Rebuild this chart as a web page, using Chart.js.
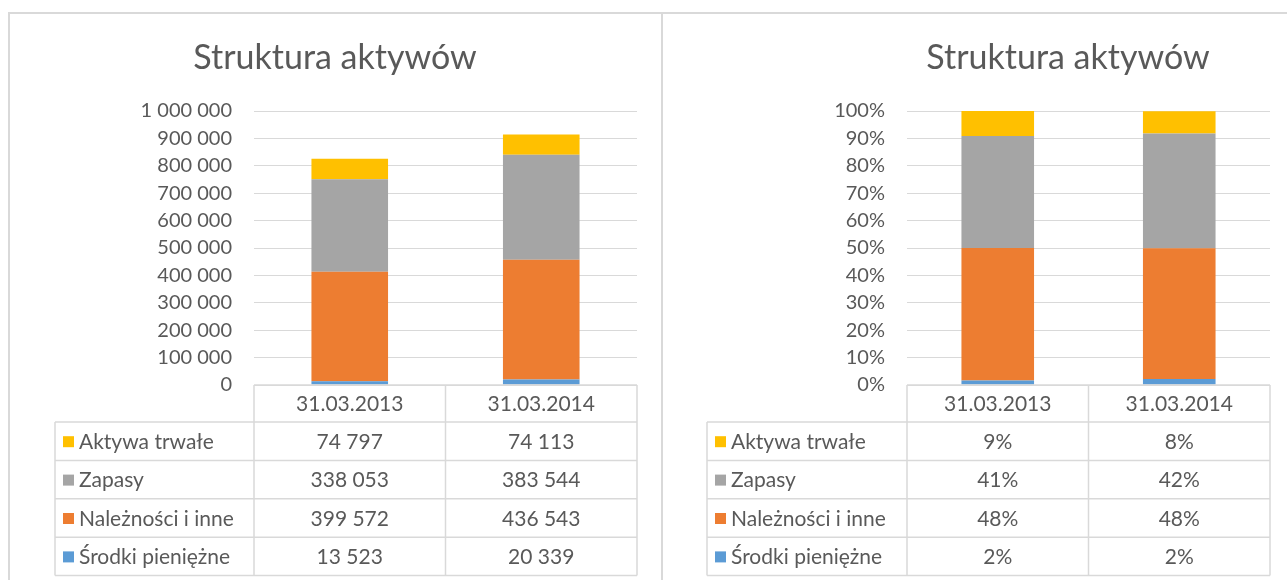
<!DOCTYPE html>
<html>
<head>
<meta charset="utf-8">
<script src="https://cdn.jsdelivr.net/npm/chart.js@4.4.1/dist/chart.umd.min.js"></script>
<style>
  html, body { margin: 0; padding: 0; background: #ffffff; width: 1287px; height: 580px; overflow: hidden; }
  .panel { position: absolute; border-left: 2px solid #d9d9d9; border-top: 2px solid #d9d9d9; box-sizing: border-box; }
  canvas { position: absolute; }
</style>
</head>
<body>
<div class="panel" style="left:8px; top:12px; width:660px; height:580px;"></div>
<div class="panel" style="left:661px; top:12px; width:640px; height:580px;"></div>
<canvas id="c1" width="651" height="566" style="left:10px; top:14px;"></canvas>
<canvas id="c2" width="624" height="566" style="left:663px; top:14px;"></canvas>
<script>
// ---- data ----
const categories = ["31.03.2013", "31.03.2014"];
const seriesNames = ["Środki pieniężne", "Należności i inne", "Zapasy", "Aktywa trwałe"];
const seriesColors = ["#5B9BD5", "#ED7D31", "#A5A5A5", "#FFC000"];
const srodki = [13523, 20339];
const naleznosci = [399572, 436543];
const zapasy = [338053, 383544];
const aktywaTrwale = [74797, 74113];
const srodkiPct = [1.6, 2.2];
const naleznosciPct = [48.4, 47.7];
const zapasyPct = [40.9, 41.9];
const aktywaTrwalePct = [9.1, 8.1];
const absTicks = [0, 100000, 200000, 300000, 400000, 500000, 600000, 700000, 800000, 900000, 1000000];
const pctTicks = [0, 10, 20, 30, 40, 50, 60, 70, 80, 90, 100];
const chartTitle = "Struktura aktywów";

const FONT = "Lato";
const TEXT = "#595959";
const GRID = "#d9d9d9";

function fmtSpace(v) {
  return String(Math.round(v)).replace(/\B(?=(\d{3})+(?!\d))/g, " ");
}
function fmtPct(v) { return Math.round(v) + "%"; }

const tablePlugin = {
  id: "dataTable",
  afterDraw(chart, args, opts) {
    const ctx = chart.ctx;
    const area = chart.chartArea;
    const xs = chart.scales.x;
    const c0 = xs.getPixelForValue(0), c1 = xs.getPixelForValue(1);
    const cols = [area.left, (c0 + c1) / 2, area.right];
    const centers = [c0, c1];
    const top = area.bottom;
    const headerH = 37;
    const rowH = 38.4;
    const tl = opts.tableLeft;
    ctx.save();
    // title
    ctx.fillStyle = TEXT;
    ctx.font = "34px " + FONT;
    ctx.textAlign = "center";
    ctx.textBaseline = "middle";
    ctx.fillText(chartTitle, opts.titleX, 44);
    // grid lines of table
    ctx.strokeStyle = GRID;
    ctx.lineWidth = 1.5;
    ctx.beginPath();
    ctx.moveTo(cols[0], top); ctx.lineTo(cols[2], top);
    for (const cx of cols) { ctx.moveTo(cx, top); ctx.lineTo(cx, top + headerH + rowH * 4); }
    for (let r = 0; r <= 4; r++) {
      const y = top + headerH + rowH * r;
      ctx.moveTo(tl, y); ctx.lineTo(cols[2], y);
    }
    ctx.moveTo(tl, top + headerH); ctx.lineTo(tl, top + headerH + rowH * 4);
    ctx.stroke();
    // header labels
    ctx.font = "21px " + FONT;
    ctx.fillStyle = TEXT;
    ctx.textAlign = "center";
    ctx.textBaseline = "middle";
    chart.data.labels.forEach((lab, i) => ctx.fillText(lab, centers[i], top + headerH / 2 + 1));
    // rows (top row = last dataset)
    const ds = chart.data.datasets;
    for (let r = 0; r < ds.length; r++) {
      const d = ds[ds.length - 1 - r];
      const yMid = top + headerH + rowH * r + rowH / 2 + 1;
      ctx.fillStyle = d.backgroundColor;
      ctx.fillRect(tl + 8, yMid - 6, 11, 11);
      ctx.fillStyle = TEXT;
      ctx.textAlign = "left";
      ctx.fillText(d.label, tl + 24, yMid);
      ctx.textAlign = "center";
      d.data.forEach((v, i) => ctx.fillText(opts.fmt(v), centers[i], yMid));
    }
    ctx.restore();
  }
};

function makeChart(id, values, ticks, fmtTick, fmtCell, rightPad, tableLeft, titleX) {
  const datasets = seriesNames.map((n, i) => ({
    label: n,
    data: values[i],
    backgroundColor: seriesColors[i],
    borderWidth: 0,
    categoryPercentage: 1.0,
    barPercentage: 0.4
  }));
  return new Chart(document.getElementById(id), {
    type: "bar",
    data: { labels: categories, datasets },
    options: {
      responsive: false,
      animation: false,
      devicePixelRatio: 1,
      layout: { padding: { left: 0, top: 97, right: rightPad, bottom: 195 } },
      plugins: {
        legend: { display: false },
        title: { display: false },
        tooltip: { enabled: false },
        dataTable: { tableLeft, titleX, fmt: fmtCell }
      },
      scales: {
        x: { stacked: true, display: false, offset: true },
        y: {
          stacked: true,
          min: ticks[0],
          max: ticks[ticks.length - 1],
          afterBuildTicks(scale) { scale.ticks = ticks.map(v => ({ value: v })); },
          afterFit(scale) { scale.width = 244; },
          border: { display: false },
          grid: { color: GRID, lineWidth: 1, drawTicks: false },
          ticks: {
            color: TEXT,
            font: { family: FONT, size: 20 },
            padding: 22,
            callback: v => fmtTick(v)
          }
        }
      }
    },
    plugins: [tablePlugin]
  });
}

makeChart("c1", [srodki, naleznosci, zapasy, aktywaTrwale], absTicks, fmtSpace, fmtSpace, 24, 45, 325);
makeChart("c2", [srodkiPct, naleznosciPct, zapasyPct, aktywaTrwalePct], pctTicks, v => v + "%", fmtPct, 17, 44, 405);
</script>
</body>
</html>
